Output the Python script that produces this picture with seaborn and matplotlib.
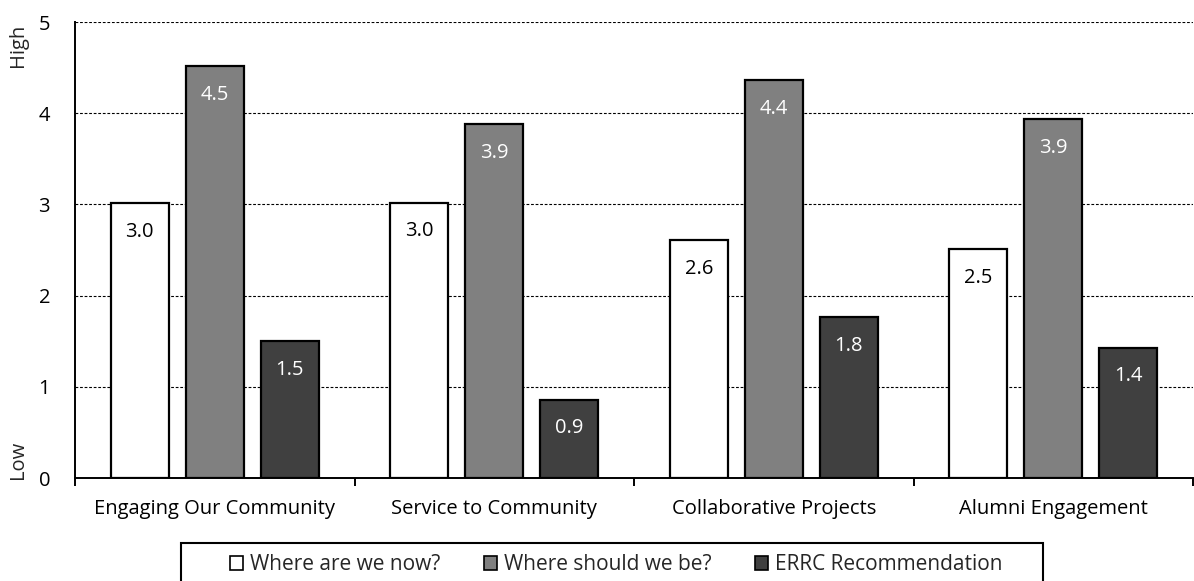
import matplotlib
matplotlib.use("Agg")
import matplotlib.pyplot as plt
import matplotlib.patches as mpatches
import seaborn as sns
import pandas as pd
from matplotlib.ticker import FixedLocator

categories = ["Engaging Our Community", "Service to Community",
              "Collaborative Projects", "Alumni Engagement"]
series = ["Where are we now?", "Where should we be?", "ERRC Recommendation"]
now_vals = [3.01, 3.02, 2.61, 2.51]
should_vals = [4.52, 3.88, 4.36, 3.94]
errc_vals = [1.50, 0.86, 1.76, 1.43]
colors = ["#ffffff", "#808080", "#404040"]
label_colors = ["black", "white", "white"]

rows = []
for name, vals in zip(series, [now_vals, should_vals, errc_vals]):
    for cat, v in zip(categories, vals):
        rows.append({"category": cat, "series": name, "value": v})
df = pd.DataFrame(rows)

sns.set_theme(style="white")
plt.rcParams["font.family"] = ["Open Sans", "DejaVu Sans"]
FS = 14.5

W, H = 1194, 581
fig = plt.figure(figsize=(W / 100, H / 100), dpi=100)
ax = fig.add_axes([75 / W, 1 - 478 / H, (1193 - 75) / W, (478 - 22) / H])

sns.barplot(data=df, x="category", y="value", hue="series", order=categories,
            hue_order=series, palette=colors, width=0.805, gap=0.226,
            edgecolor="black", linewidth=1.6, errorbar=None, ax=ax, zorder=3)

# value labels inside the top of each bar
for container, lc in zip(ax.containers, label_colors):
    ax.bar_label(container, labels=[f"{b.get_height():.1f}" for b in container],
                 label_type="edge", padding=-28, color=lc, fontsize=FS)

ax.set_ylim(0, 5)
ax.set_xlim(-0.5, 3.5)
ax.set_yticks([0, 1, 2, 3, 4, 5])
ax.yaxis.grid(True, linestyle=(0, (2.5, 1.6)), color="black", linewidth=0.8, zorder=0)
ax.set_axisbelow(True)
ax.set_xlabel("")
ax.set_ylabel("")

for side in ["top", "right"]:
    ax.spines[side].set_visible(False)
for side in ["left", "bottom"]:
    ax.spines[side].set_color("black")
    ax.spines[side].set_linewidth(1.4)

ax.tick_params(axis="x", which="major", length=0, labelsize=FS, pad=15, colors="black")
ax.tick_params(axis="y", which="major", length=0, labelsize=FS, pad=18, colors="black")
ax.xaxis.set_minor_locator(FixedLocator([-0.5, 0.5, 1.5, 2.5, 3.5]))
ax.tick_params(axis="x", which="minor", length=6, width=1.4, color="black", direction="out", bottom=True)

fig.text(18 / W, 1 - 45 / H, "High", rotation=90, ha="center", va="center", fontsize=FS)
fig.text(18 / W, 1 - 460 / H, "Low", rotation=90, ha="center", va="center", fontsize=FS)

# legend entries in one row, with a wide frame running off the bottom edge
ax.legend_.remove()
handles = [mpatches.Rectangle((0, 0), 1, 1, facecolor=c, edgecolor="black", linewidth=1.2)
           for c in colors]
leg = fig.legend(handles, series, loc="center", bbox_to_anchor=(616 / W, 1 - 565 / H),
                 ncol=3, frameon=False, fontsize=15, handlelength=0.65,
                 handleheight=0.65, handletextpad=0.3, columnspacing=2.1,
                 borderpad=0, borderaxespad=0)
frame = mpatches.Rectangle((181 / W, -0.05), (1043 - 181) / W, 0.05 + (1 - 543 / H),
                           transform=fig.transFigure, fill=False, edgecolor="black",
                           linewidth=1.5, clip_on=False)
fig.patches.append(frame)

fig.savefig("out.png", dpi=100)
